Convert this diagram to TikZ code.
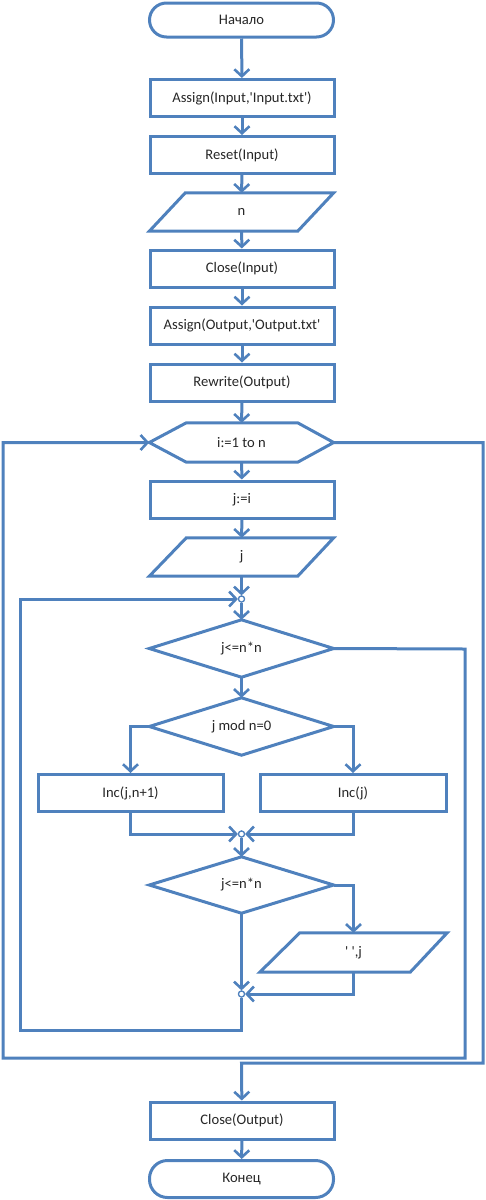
\documentclass[tikz,border=0pt]{standalone}
\usepackage{fontspec}
\newfontfamily\flowfont{Carlito}
\usetikzlibrary{arrows.meta}
\definecolor{lineblue}{RGB}{79,129,189}
\tikzset{
  flow/.style={draw=lineblue, line width=3pt, line join=miter},
  arr/.style={flow, -{Straight Barb[length=7pt,width=15pt,line width=2.6pt]}},
  blk/.style={rectangle, minimum width=184pt, minimum height=37pt, inner sep=0pt, font=\flowfont\fontsize{14.6}{16}\selectfont, text=black!85},
  boxed/.style={blk, draw=lineblue, line width=3pt},
  term/.style={boxed, rounded corners=17pt, minimum height=34pt},
  ghost/.style={blk, draw=none},
  jn/.style={circle, draw=lineblue, fill=white, line width=1.2pt, minimum size=6pt, inner sep=0pt},
}
\begin{document}
\begin{tikzpicture}[x=1pt,y=-1pt]
\useasboundingbox (0,0) rectangle (486,1200);
% nodes
\node[term] (start) at (241.5,20) {Начало};
\node[boxed] (asin) at (242,98) {Assign(Input,'Input.txt')};
\node[boxed] (reset) at (242,155) {Reset(Input)};
\node[ghost, minimum height=38pt] (n) at (241.5,212) {n};
\node[boxed] (clin) at (242,268.5) {Close(Input)};
\node[boxed] (asout) at (242,325.5) {Assign(Output,'Output.txt'};
\node[boxed] (rew) at (242,382.5) {Rewrite(Output)};
\node[ghost, minimum height=39pt] (hex) at (241.5,442.5) {i:=1 to n};
\node[boxed] (ji) at (242,499.5) {j:=i};
\node[ghost, minimum height=38pt] (jp) at (241.5,557) {j};
\node[ghost, minimum height=57pt] (d1) at (241.5,648.5) {j<=n*n};
\node[ghost, minimum height=57pt] (d2) at (241.5,726.5) {j mod n=0};
\node[boxed, minimum width=185pt] (inc1) at (130.5,793) {Inc(j,n+1)};
\node[boxed, minimum width=186pt] (inc2) at (353,793) {Inc(j)};
\node[ghost, minimum height=56pt] (d3) at (241.5,885) {j<=n*n};
\node[ghost, minimum width=187pt, minimum height=39pt] (outp) at (353.5,952.5) {' ',j};
\node[boxed] (clout) at (242,1120.5) {Close(Output)};
\node[term, minimum height=37pt, rounded corners=18pt] (fin) at (241.5,1179) {Конец};
% shape outlines
\draw[flow] ([xshift=36pt]n.north west) -- (n.north east) -- ([xshift=-36pt]n.south east) -- (n.south west) -- cycle;
\draw[flow] (hex.west) -- ([xshift=37pt]hex.north west) -- ([xshift=-36pt]hex.north east) -- (hex.east) -- ([xshift=-36pt]hex.south east) -- ([xshift=37pt]hex.south west) -- cycle;
\draw[flow] ([xshift=37pt]jp.north west) -- (jp.north east) -- ([xshift=-36pt]jp.south east) -- (jp.south west) -- cycle;
\foreach \d in {d1,d2,d3}{
  \draw[flow] (\d.north) -- (\d.east) -- (\d.south) -- (\d.west) -- cycle;
}
\draw[flow] ([xshift=40pt]outp.north west) -- (outp.north east) -- ([xshift=-37pt]outp.south east) -- (outp.south west) -- cycle;
% junctions
\node[jn] (J1) at (241.5,599) {};
\node[jn] (J2) at (241.5,834) {};
\node[jn] (J3) at (241.5,994) {};
% coordinates for loops
\coordinate (ib) at (241.5,1030);
\coordinate (il) at (20,1030);
\coordinate (it) at (20,599);
\coordinate (o1) at (465,649);
\coordinate (o2) at (465,1058);
\coordinate (o3) at (3,1058);
\coordinate (o4) at (3,442.5);
\coordinate (e1) at (483,442.5);
\coordinate (e2) at (483,1063);
\coordinate (e3) at (241.5,1063);
% connectors
\draw[arr] (start) -- (asin);
\draw[arr] (asin) -- (reset);
\draw[arr] (reset) -- (n);
\draw[arr] (n) -- (clin);
\draw[arr] (clin) -- (asout);
\draw[arr] (asout) -- (rew);
\draw[arr] (rew) -- (hex);
\draw[arr] (hex) -- (ji);
\draw[arr] (ji) -- (jp);
\draw[arr] (jp) -- (J1);
\draw[arr] (J1) -- (d1);
\draw[arr] (d1) -- (d2);
\draw[arr] (d2.west) -| (inc1.north);
\draw[arr] (d2.east) -| (inc2.north);
\draw[arr] (inc1.south) |- (J2);
\draw[arr] (inc2.south) |- (J2);
\draw[arr] (J2) -- (d3);
\draw[arr] (d3.east) -| (outp.north);
\draw[arr] (d3.south) -- (J3);
\draw[arr] (outp.south) |- (J3);
\draw[arr] (J3) -- (ib) -- (il) -- (it) -- (J1);
\draw[arr] (d1.east) -- (o1) -- (o2) -- (o3) -- (o4) -- (hex.west);
\draw[arr] (hex.east) -- (e1) -- (e2) -- (e3) -- (clout);
\draw[arr] (clout) -- (fin);
% redraw junctions on top
\node[jn] at (J1) {};
\node[jn] at (J2) {};
\node[jn] at (J3) {};
\end{tikzpicture}
\end{document}
